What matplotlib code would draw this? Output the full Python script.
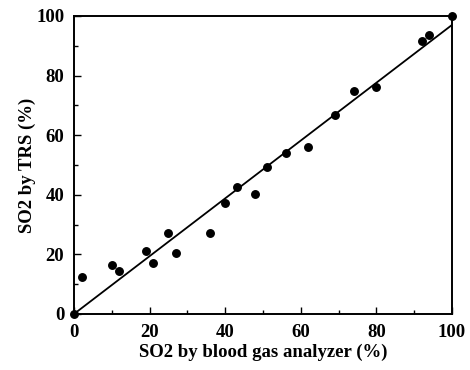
import matplotlib
matplotlib.use("Agg")
import matplotlib.pyplot as plt
from matplotlib.ticker import MultipleLocator

# SO2 readings: blood gas analyzer (x) vs TRS (y), in percent
so2_analyzer = [0, 2, 10, 12, 19, 21, 25, 27, 36, 40, 43, 48, 51, 56, 62, 69, 74, 80, 92, 94, 100]
so2_trs = [0, 12.3, 16.5, 14.5, 21.1, 17.2, 27.2, 20.4, 27.3, 37.2, 42.7, 40.2, 49.3, 53.9, 56.1, 66.7, 74.7, 76.1, 91.7, 93.7, 100]

# regression line
fit_slope = 0.97
fit_intercept = 0.0
fit_x = [0, 100]

plt.rcParams['font.family'] = ['Liberation Serif', 'DejaVu Serif']
plt.rcParams['font.weight'] = 'bold'

fig = plt.figure(figsize=(4.7, 3.7), dpi=100)
ax = fig.add_axes([0.1574, 0.1514, 0.8043, 0.8054])

ax.plot(fit_x, [fit_slope * v + fit_intercept for v in fit_x], color='black', lw=1.3)
ax.plot(so2_analyzer, so2_trs, 'o', color='black', ms=5.4, clip_on=False, zorder=3)

ax.set_xlim(0, 100)
ax.set_ylim(0, 100)
ax.xaxis.set_major_locator(MultipleLocator(20))
ax.xaxis.set_minor_locator(MultipleLocator(10))
ax.yaxis.set_major_locator(MultipleLocator(20))
ax.yaxis.set_minor_locator(MultipleLocator(10))
ax.tick_params(which='both', direction='in', top=False, right=False, labelsize=13.5, width=1.0)
ax.tick_params(which='major', length=5)
ax.tick_params(which='minor', length=3)
ax.tick_params(axis='x', which='major', pad=7)
ax.tick_params(axis='y', which='major', pad=7)
for lab in ax.get_xticklabels() + ax.get_yticklabels():
    lab.set_fontweight('bold')
for sp in ax.spines.values():
    sp.set_linewidth(1.4)

ax.set_xlabel('SO2 by blood gas analyzer (%)', fontsize=13.5, fontweight='bold', labelpad=2)
ax.set_ylabel('SO2 by TRS (%)', fontsize=13.5, fontweight='bold', labelpad=0)

fig.savefig('out.png', dpi=100)
